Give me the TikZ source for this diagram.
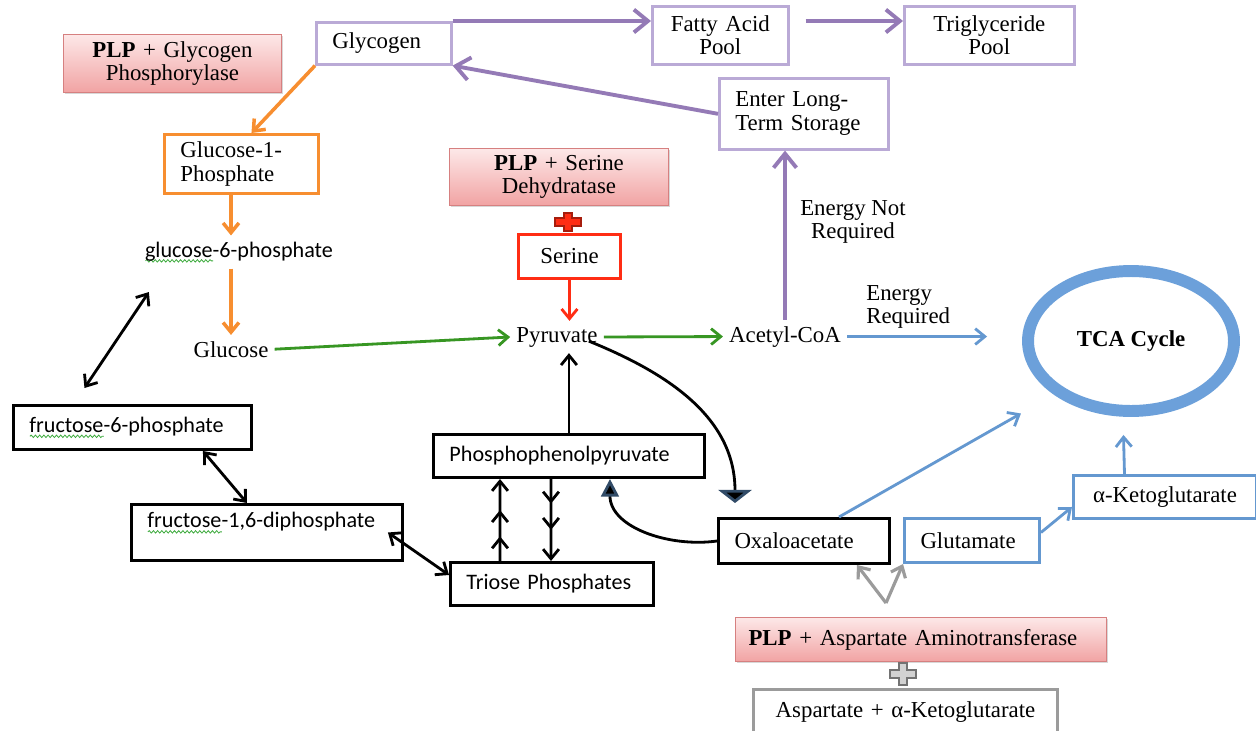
\documentclass[tikz,border=0pt]{standalone}
\usepackage{fontspec}
\setmainfont{Liberation Serif}
\newfontfamily\sansfam{Carlito}
\usetikzlibrary{arrows.meta,shapes.geometric,shadows,decorations.markings,decorations.pathmorphing}

\definecolor{purp}{RGB}{148,122,182}
\definecolor{lpurp}{RGB}{186,170,214}
\definecolor{orng}{RGB}{247,142,48}
\definecolor{grn}{RGB}{55,150,35}
\definecolor{rd}{RGB}{255,45,20}
\definecolor{blu}{RGB}{100,152,208}
\definecolor{ringblu}{RGB}{108,160,218}
\definecolor{pnkT}{RGB}{253,232,232}
\definecolor{pnkB}{RGB}{241,163,163}
\definecolor{pnkD}{RGB}{214,128,128}
\definecolor{gry}{RGB}{155,155,155}
\definecolor{wavegrn}{RGB}{60,170,60}

% spell-check squiggle under a word
\newlength\sqlen
\newcommand\squig[1]{\settowidth\sqlen{#1}\rlap{\tikz[x=1pt,y=1pt,baseline=0pt]\draw[wavegrn,line width=0.45pt,decorate,decoration={snake,amplitude=0.7pt,segment length=2.4pt}] (0,-2.2) -- (\sqlen,-2.2);}#1}

\begin{document}
\begin{tikzpicture}[x=0.02cm,y=-0.02cm,
  rmtext/.style={font=\fontsize{13}{13.5}\selectfont},
  sftext/.style={font=\sansfam\fontsize{12.6}{14}\selectfont},
  bx/.style={draw,anchor=north west,inner xsep=0.32cm,inner ysep=0pt,line width=1.7pt},
  pinkbox/.style={bx,rmtext,draw=pnkD,line width=0.6pt,top color=pnkT,bottom color=pnkB,
    drop shadow={shadow xshift=0.6pt,shadow yshift=-1pt,opacity=0.3}},
  purpbox/.style={bx,rmtext,draw=lpurp,line width=1.5pt},
  thinhead/.style={-{Straight Barb[length=5.5pt,width=9pt]}},
  twoway/.style={{Straight Barb[length=5.5pt,width=9pt]}-{Straight Barb[length=5.5pt,width=9pt]}},
  parr/.style={draw=purp,line width=2.2pt,-{Straight Barb[length=8pt,width=13pt]}},
  oarr/.style={draw=orng,line width=2pt,thinhead},
  grnarr/.style={draw=grn,line width=1.6pt,thinhead},
  bluarr/.style={draw=blu,line width=1.6pt,thinhead},
  redarr/.style={draw=rd,line width=1.6pt,thinhead},
  grayarr/.style={draw=gry,line width=1.8pt,thinhead},
  karr/.style={draw=black,line width=1.6pt,thinhead},
  multi/.style={karr,postaction={decorate},decoration={markings,
    mark=at position 0.3 with {\arrow{Straight Barb[length=5.5pt,width=9pt]}},
    mark=at position 0.62 with {\arrow{Straight Barb[length=5.5pt,width=9pt]}}}}]
\useasboundingbox (0,0) rectangle (1256,730);
\fill[white] (0,0) rectangle (1256,730);

% storage side
\node[pinkbox,align=center,text width=3.72cm,minimum height=1.16cm] (plpgp) at (63,34) {\textbf{PLP} + Glycogen\\Phosphorylase};
\node[purpbox,align=left,text width=2.06cm,minimum height=0.84cm] (glycogen) at (315,21) {Glycogen};
\node[purpbox,align=center,text width=2.08cm,minimum height=1.16cm] (fatty) at (651,5) {Fatty Acid\\Pool};
\node[purpbox,align=center,text width=2.76cm,minimum height=1.16cm] (trig) at (903,5) {Triglyceride\\Pool};
\node[purpbox,align=left,text width=2.74cm,minimum height=1.42cm] (storage) at (718,77) {Enter Long-\\Term Storage};
\node[bx,rmtext,draw=orng,align=left,text width=2.44cm,minimum height=1.18cm] (g1p) at (163,133) {Glucose-1-\\Phosphate};
\node[sftext,anchor=base] (g6p) at (239,257) {\squig{glucose}-6-phosphate};
\node[rmtext,anchor=base] (glucose) at (231,357) {Glucose};

% serine branch
\node[pinkbox,align=center,text width=3.74cm,minimum height=1.14cm] (plpsd) at (449,148) {\textbf{PLP} + Serine\\Dehydratase};
\node[bx,rmtext,draw=rd,align=center,text width=1.40cm,minimum height=0.88cm] (serine) at (517,233) {Serine};
\node[rmtext,anchor=base] (pyruvate) at (557,342) {Pyruvate};
\node[rmtext,anchor=base] (acetyl) at (785,342) {Acetyl-CoA};
\node[ellipse,draw=ringblu,line width=6.8pt,minimum width=4.12cm,minimum height=2.8cm,inner sep=0pt,rmtext] (tca) at (1131,341) {\textbf{TCA Cycle}};
\node[rmtext,align=center,inner sep=0pt] (notreq) at (853,222) {Energy Not\\Required};
\node[rmtext,align=left,anchor=west,inner sep=0pt] (req) at (866,307) {Energy\\Required};

% glycolysis boxes
\node[bx,sftext,align=left,text width=4.12cm,minimum height=0.88cm] (f6p) at (12,404) {\squig{fructose}-6-phosphate};
\node[bx,sftext,align=left,text width=4.78cm,text height=0.47cm,text depth=0.65cm] (f16bp) at (130,503) {\squig{fructose}-1,6-diphosphate};
\node[bx,sftext,align=left,text width=4.78cm,minimum height=0.86cm] (pep) at (432,433) {Phosphophenolpyruvate};
\node[bx,sftext,align=left,text width=3.42cm,minimum height=0.86cm] (triose) at (449,561) {Triose Phosphates};

% aspartate branch
\node[bx,rmtext,align=left,text width=2.78cm,minimum height=0.9cm] (oaa) at (717,517) {Oxaloacetate};
\node[bx,rmtext,draw=blu,align=left,text width=2.06cm,minimum height=0.88cm] (glu) at (903,517) {Glutamate};
\node[bx,rmtext,draw=blu,align=center,text width=3.02cm,minimum height=0.86cm] (akg) at (1072,474) {α-Ketoglutarate};
\node[pinkbox,align=left,inner xsep=0.26cm,text width=6.9cm,minimum height=0.88cm] (plpaat) at (735,617) {\textbf{PLP} + Aspartate Aminotransferase};
\node[bx,rmtext,draw=gry,align=center,text width=5.44cm,minimum height=0.9cm] (asp) at (752,688) {Aspartate + α-Ketoglutarate};
\coordinate (vtip) at (886,603);

% plus signs
\foreach \cx/\cy/\hw/\hh/\fc/\dc in {568/222/13/9/rd/rd!65!black, 903/674/13/11/gry!45/black!55}
  \draw[fill=\fc,draw=\dc,line width=0.9pt] (\cx,\cy) +(-4,-\hh) -- +(4,-\hh) -- +(4,-4) -- +(\hw,-4) -- +(\hw,4) -- +(4,4) -- +(4,\hh) -- +(-4,\hh) -- +(-4,4) -- +(-\hw,4) -- +(-\hw,-4) -- +(-4,-4) -- cycle;

% purple arrows
\draw[parr] (glycogen.north east) -- (glycogen.north east -| fatty.west);
\draw[parr,shorten <=0.32cm] (fatty.east |- glycogen.north) -- (trig.west |- glycogen.north);
\draw[parr] (storage.west) -- (glycogen.south east);
\draw[parr] (acetyl.north) -- (acetyl.north |- storage.south);

% orange arrows
\draw[oarr] (glycogen.south west) -- ([xshift=0.2cm]g1p.north);
\draw[oarr] (g1p.south -| glucose.north) -- (g6p.north -| glucose.north);
\draw[oarr] (g6p.south -| glucose.north) -- (glucose.north);

% main line
\draw[grnarr] (glucose.east) -- (pyruvate.west);
\draw[grnarr] (pyruvate.east) -- (acetyl.west);
\draw[bluarr,shorten >=0.7cm] (acetyl.east) -- (acetyl.east -| tca.west);
\draw[redarr] (serine.south) -- (serine.south |- pyruvate.north);
\draw[karr] (pep.north) -- (pep.north |- pyruvate.south);
\draw[multi] ([xshift=1.02cm]triose.north west) -- ([xshift=1.36cm]pep.south west);
\draw[multi] ([xshift=2.38cm]pep.south west) -- ([xshift=2.04cm]triose.north west);

% reversible steps
\draw[karr,twoway] ([shift={(-48,-16)}]f6p.north) -- ([shift={(10,40)}]g6p.west);
\draw[karr,twoway] ([xshift=-1cm]f6p.south east) -- ([xshift=2.34cm]f16bp.north west);
\draw[karr,twoway] ([shift={(-16,0)}]f16bp.east) -- ([shift={(0,-9)}]triose.west);

% pyruvate / oxaloacetate loop
\draw[karr,-{Triangle[length=7.5pt,width=19pt,fill=black,color=blu!50!black]}] ([shift={(-15,-12)}]pyruvate.south east) to[out=-22,in=90] ([shift={(18,-14)}]oaa.north west);
\draw[karr,-{Triangle[length=10pt,width=10pt,fill=black,color=blu!50!black]}] (oaa.west) to[out=188,in=-90] ([xshift=3.56cm]pep.south west);

% blue arrows
\draw[bluarr,shorten >=0.76cm] ([xshift=-1.04cm]oaa.north east) -- (tca.south west);
\draw[bluarr] ([shift={(0,-8)}]glu.east) -- ([shift={(0,10)}]akg.west);
\draw[bluarr,shorten >=0.36cm] ([xshift=-0.81cm]akg.north) -- ([xshift=-0.16cm]tca.south);

% gray arrows
\draw[grayarr] (vtip) -- ([xshift=-0.68cm]oaa.south east);
\draw[grayarr] (vtip) -- (glu.south west);
\end{tikzpicture}
\end{document}
